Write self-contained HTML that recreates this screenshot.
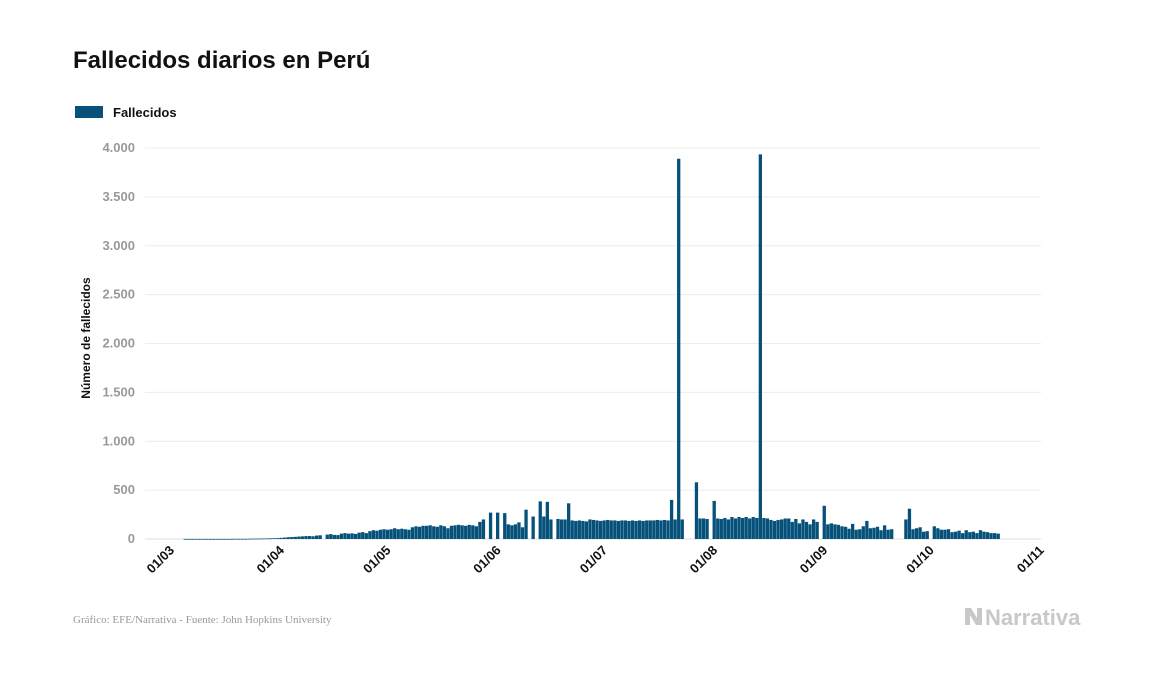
<!DOCTYPE html>
<html><head><meta charset="utf-8"><style>
body{margin:0;background:#fff;width:1157px;height:674px;overflow:hidden;font-family:"Liberation Sans",sans-serif}
</style></head><body>
<svg width="1157" height="674" xmlns="http://www.w3.org/2000/svg">
<text x="73" y="68" font-size="24" font-weight="bold" fill="#111">Fallecidos diarios en Perú</text>
<rect x="75" y="106" width="28" height="12" fill="#05517a"/>
<text x="113" y="117" font-size="13" font-weight="bold" fill="#111">Fallecidos</text>
<g id="grid"></g><g id="bars"></g><g id="xlab"></g>
<text transform="translate(90,338) rotate(-90)" text-anchor="middle" font-size="12" font-weight="bold" fill="#111">Número de fallecidos</text>
<text x="73" y="623" font-size="11" fill="#999" font-family="Liberation Serif,serif">Gráfico: EFE/Narrativa - Fuente: John Hopkins University</text>
<text x="985" y="625" font-size="22" font-weight="bold" fill="#c8c8c8">Narrativa</text>
<path d="M965 608 l6 0 l6 10 l0 -10 l5 0 l0 17 l-6 0 l-6 -10 l0 10 l-5 0z" fill="#c8c8c8"/>
</svg>
<script>
const yTicks=[0,500,1000,1500,2000,2500,3000,3500,4000];
const yTickLabels=["0","500","1.000","1.500","2.000","2.500","3.000","3.500","4.000"];
const xTickDays=[0,31,61,92,122,153,184,214,245];
const xTickLabels=["01/03","01/04","01/05","01/06","01/07","01/08","01/09","01/10","01/11"];
const marchVals=[0,0,0,0,1,1,1,1,1,1,1,1,1,1,1,1,1,1,2,2,2,2,3,4,4,5,5,6,7,8,9];
const aprilVals=[12,14,18,20,22,25,27,30,30,28,35,38,0,45,50,42,40,55,60,55,58,52,65,70,60,80,90,85,95,100];
const mayVals=[95,100,110,100,105,100,95,120,130,125,135,135,140,130,125,140,130,110,135,140,145,140,135,145,140,130,175,200,0,270,0];
const juneVals=[270,0,265,150,140,150,170,120,300,0,230,0,385,230,380,200,0,205,200,200,365,190,185,190,185,180,200,195,190,185];
const julyVals=[190,195,190,190,185,190,190,185,190,185,190,185,190,190,190,195,190,195,190,400,200,3890,200,0,0,0,580,210,210,205,0];
const augVals=[390,210,205,215,200,225,210,225,215,225,210,225,215,3935,215,210,195,185,195,200,210,210,175,205,160,200,175,150,200,175,0];
const sepVals=[340,150,160,150,145,130,125,105,155,95,100,130,185,110,115,125,90,140,95,100,0,0,0,200,310,100,110,120,75,80];
const octVals=[0,130,110,95,95,100,70,75,85,60,90,70,75,60,90,75,70,60,60,55];
const values=[].concat(marchVals,aprilVals,mayVals,juneVals,julyVals,augVals,sepVals,octVals);
const NS="http://www.w3.org/2000/svg";
const x0=171,pxDay=3.55,yBase=539,yTop=148;
const xs=d=>x0+d*pxDay;
const ys=v=>yBase-(v/4000)*(yBase-yTop);
const grid=document.getElementById('grid');
yTicks.forEach((t,i)=>{
 const l=document.createElementNS(NS,'line');
 l.setAttribute('x1',145);l.setAttribute('x2',1041);l.setAttribute('y1',ys(t));l.setAttribute('y2',ys(t));
 l.setAttribute('stroke',i==0?'#ddd':'#ececec');
 
 
 grid.appendChild(l);
 const tx=document.createElementNS(NS,'text');
 tx.setAttribute('x',135);tx.setAttribute('y',ys(t)+4);tx.setAttribute('text-anchor','end');
 tx.setAttribute('font-size','13');tx.setAttribute('font-weight','bold');tx.setAttribute('fill','#999');
 tx.textContent=yTickLabels[i];
 
 
 grid.appendChild(tx);
});
const bars=document.getElementById('bars');
values.forEach((v,d)=>{
 if(v<=0)return;
 const r=document.createElementNS(NS,'rect');
 const x=xs(d)-1.6;
 r.setAttribute('x',x);r.setAttribute('width',3.3);
 r.setAttribute('y',ys(v));r.setAttribute('height',Math.max(0.8,yBase-ys(v)));
 r.setAttribute('fill','#05517a');
 
 
 bars.appendChild(r);
});
const xl=document.getElementById('xlab');
xTickDays.forEach((d,i)=>{
 const tx=document.createElementNS(NS,'text');
 const x=xs(d)+4,y=551;
 tx.setAttribute('transform',`translate(${x},${y}) rotate(-45)`);
 tx.setAttribute('text-anchor','end');tx.setAttribute('font-size','13');tx.setAttribute('font-weight','bold');tx.setAttribute('fill','#111');
 tx.textContent=xTickLabels[i];
 
 
 xl.appendChild(tx);
});
</script>
</body></html>
